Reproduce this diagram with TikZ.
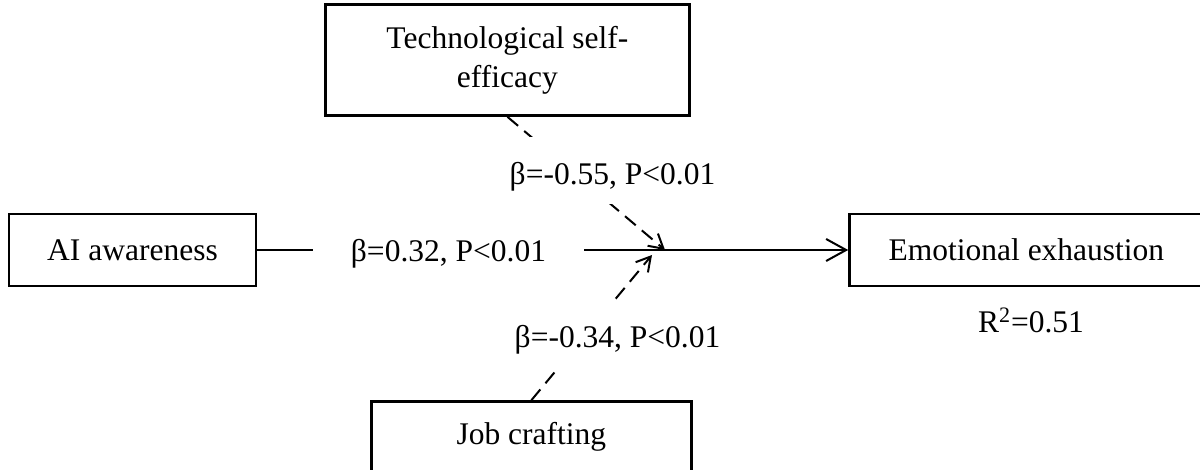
\documentclass[tikz,border=0pt]{standalone}
\usepackage{fontspec}
\setmainfont{Liberation Serif}
\usetikzlibrary{arrows.meta, positioning}

\begin{document}
\begin{tikzpicture}[
    x=0.5pt, y=-0.5pt,
    font=\fontsize{15.75}{19.5}\selectfont,
    box/.style={rectangle, draw, line width=1.2pt, align=center, inner sep=0pt},
    arrow/.style={-{Straight Barb[length=10pt, width=11pt]}, line width=1pt},
    dasharrow/.style={-{Straight Barb[length=7pt, width=8pt]}, line width=1pt, dash pattern=on 7pt off 4pt},
    coef/.style={fill=white, inner xsep=18.75pt, inner ysep=0pt, text height=24pt, text depth=9.5pt, anchor=base}
]
\useasboundingbox (0,0) rectangle (1200,470);

\node[box, minimum width=123.5pt, minimum height=36pt] (ai) at (132.5,250) {AI awareness};
\node[box, minimum width=177pt, minimum height=36pt, right=295.5pt of ai] (exhaust) {Emotional exhaustion};
\node[box, minimum width=182pt, minimum height=55.5pt, above right=48pt and 33.5pt of ai] (tech) {Technological self-\\efficacy};
\node[box, minimum width=160pt, minimum height=35pt, below right=56.5pt and 56.5pt of ai] (job) {Job crafting};
\coordinate (tipA) at (665,250);
\coordinate (tipB) at (652,255);

\draw[arrow] (ai) -- (exhaust);
\draw[dasharrow] (tech.south) -- (tipA);
\draw[dasharrow] (job.north) -- (tipB);

% path coefficients
\node[coef] (b1) at (448.5,262) {β=0.32, P<0.01};
\node[coef] (b2) at (612.5,185) {β=-0.55, P<0.01};
\node[coef] (b3) at (617.5,348) {β=-0.34, P<0.01};
\node[anchor=base] (rsq) at (1031,333) {R\textsuperscript{2}=0.51};
\end{tikzpicture}
\end{document}
